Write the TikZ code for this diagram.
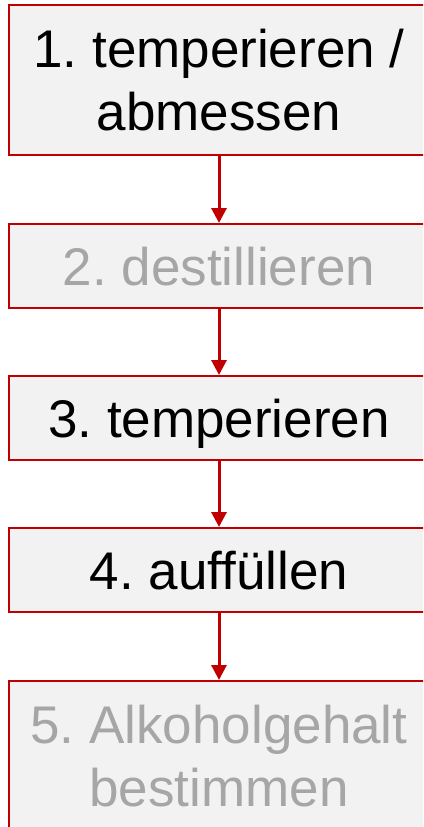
\documentclass[tikz,border=0pt]{standalone}
\usepackage{fontspec}
\setmainfont{Liberation Sans}
\usetikzlibrary{positioning, arrows.meta}
\definecolor{stepred}{HTML}{C00000}
\frenchspacing

\begin{document}
\begin{tikzpicture}[x=1pt, y=-1pt, ->, >={Triangle[width=15pt,length=15pt]}, on grid,
    stage/.style={draw=stepred, line width=2pt, fill=black!5, minimum width=421pt,
      minimum height=84pt, inner sep=0pt, align=center, font=\fontsize{53}{63}\selectfont,
      text height=38pt, text depth=0pt},
    tall/.style={minimum height=150pt, text height=101pt},
    faded/.style={text=black!35}]
      \clip (0,0) rectangle (423,827);
      \node[stage, tall] (s1) at (219,80) {1. temperieren /\\abmessen};
      \node[stage, faded, below=186pt of s1] (s2) {2. destillieren};
      \node[stage, below=152pt of s2] (s3) {3. temperieren};
      \node[stage, below=152pt of s3] (s4) {4. auffüllen};
      \node[stage, tall, faded, below=186pt of s4] (s5) {5. Alkoholgehalt\\bestimmen};
      \path[draw=stepred, fill=stepred, line width=3pt]
            (s1) edge (s2)
            (s2) edge (s3)
            (s3) edge (s4)
            (s4) edge (s5);
    \end{tikzpicture}
\end{document}
